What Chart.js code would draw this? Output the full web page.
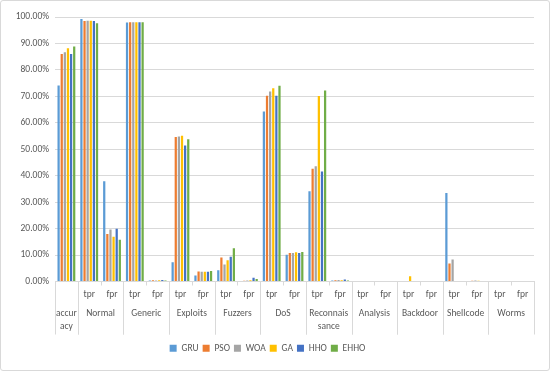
<!DOCTYPE html>
<html>
<head>
<meta charset="utf-8">
<script src="https://cdn.jsdelivr.net/npm/chart.js@4"></script>
<style>
  body { margin: 0; background: #fff; }
  #box { position: absolute; left: 0; top: 0; width: 548px; height: 369px; border: 1px solid #d9d9d9; border-radius: 3px; }
</style>
</head>
<body>
<div id="box"><canvas id="chart" width="548" height="369"></canvas></div>
<script>
// groups along the x axis, each with tpr / fpr (accuracy stands alone)
const groups = ['accuracy', 'Normal', 'Generic', 'Exploits', 'Fuzzers', 'DoS', 'Reconnaissance', 'Analysis', 'Backdoor', 'Shellcode', 'Worms'];
const groupLines = [['accur', 'acy'], ['Normal'], ['Generic'], ['Exploits'], ['Fuzzers'], ['DoS'], ['Reconnais', 'sance'], ['Analysis'], ['Backdoor'], ['Shellcode'], ['Worms']];
const metrics = ['tpr', 'fpr'];
const yTicks = [0, 10, 20, 30, 40, 50, 60, 70, 80, 90, 100];

const seriesNames = ['GRU', 'PSO', 'WOA', 'GA', 'HHO', 'EHHO'];
const seriesColors = ['#5B9BD5', '#ED7D31', '#A5A5A5', '#FFC000', '#4472C4', '#70AD47'];

// acc, Normal tpr/fpr, Generic, Exploits, Fuzzers, DoS, Recon, Analysis, Backdoor, Shellcode, Worms
const GRU  = [74.1, 99.2, 37.9, 97.9, 0.4,  7.3, 2.3,  4.3, 0.2, 64.3, 10.1, 34.1, 0.4, 0, 0, 0,   0, 33.5, 0,   0, 0];
const PSO  = [86.0, 98.5, 18.0, 98.0, 0.5, 54.6, 3.8,  9.1, 0.3, 70.2, 10.8, 42.6, 0.5, 0, 0, 0,   0,  6.8, 0.3, 0, 0];
const WOA  = [86.7, 98.6, 19.7, 98.0, 0.4, 54.8, 3.7,  6.4, 0.4, 71.8, 10.8, 43.6, 0.6, 0, 0, 0,   0,  8.3, 0.4, 0, 0];
const GA   = [88.2, 98.6, 16.9, 98.0, 0.5, 55.1, 3.7,  8.0, 0.5, 73.1, 11.1, 70.1, 0.5, 0, 0, 2.0, 0,  0,   0.3, 0, 0];
const HHO  = [86.0, 98.5, 19.9, 98.0, 0.6, 51.4, 3.7,  9.4, 1.4, 70.2, 10.8, 41.6, 0.8, 0, 0, 0,   0,  0,   0.2, 0, 0];
const EHHO = [88.8, 97.6, 15.8, 98.0, 0.4, 53.8, 4.0, 12.6, 0.9, 74.0, 11.2, 72.2, 0.4, 0, 0, 0,   0,  0,   0,   0, 0];
const seriesData = [GRU, PSO, WOA, GA, HHO, EHHO];

// build the 21 x categories
const labels = ['accuracy'];
groups.slice(1).forEach(g => metrics.forEach(m => labels.push(g + ' ' + m)));

const textColor = '#595959';
const gridColor = '#d9d9d9';
const fontFamily = "Carlito, 'Liberation Sans', Arial, sans-serif";

// draws tpr/fpr ticks, group names and divider lines under the axis
const groupAxis = {
    id: 'groupAxis',
    afterDraw(chart) {
        const ctx = chart.ctx;
        const x = chart.scales.x;
        const bottom = chart.chartArea.bottom;
        const step = x.width / labels.length;
        ctx.save();
        ctx.fillStyle = textColor;
        ctx.font = '9.5px ' + fontFamily;
        ctx.textAlign = 'center';
        ctx.textBaseline = 'middle';
        ctx.strokeStyle = gridColor;
        ctx.lineWidth = 1;

        // short ticks at every category edge
        for (let i = 0; i <= labels.length; i++) {
            const px = Math.round(x.left + i * step) + 0.5;
            ctx.beginPath();
            ctx.moveTo(px, bottom);
            ctx.lineTo(px, bottom + 4);
            ctx.stroke();
        }

        // tpr / fpr row
        labels.forEach((lab, i) => {
            if (i === 0) return;
            ctx.fillText(metrics[(i - 1) % 2], x.getPixelForValue(i), bottom + 13);
        });

        // group names and full-height dividers
        let start = 0;
        groups.forEach((g, gi) => {
            const n = gi === 0 ? 1 : 2;
            const left = x.left + start * step;
            const right = x.left + (start + n) * step;
            const cx = (left + right) / 2;
            groupLines[gi].forEach((ln, li) => {
                ctx.fillText(ln, cx, bottom + 32 + li * 13);
            });
            [left, right].forEach(px => {
                ctx.beginPath();
                ctx.moveTo(Math.round(px) + 0.5, bottom);
                ctx.lineTo(Math.round(px) + 0.5, bottom + 53);
                ctx.stroke();
            });
            start += n;
        });
        ctx.restore();
    }
};

new Chart(document.getElementById('chart'), {
    type: 'bar',
    data: {
        labels: labels,
        datasets: seriesNames.map((name, i) => ({
            label: name,
            data: seriesData[i],
            backgroundColor: seriesColors[i],
            borderWidth: 0,
            categoryPercentage: 0.82,
            barPercentage: 0.72
        }))
    },
    options: {
        responsive: false,
        animation: false,
        layout: { padding: { left: 0, right: 15, top: 16, bottom: 7 } },
        scales: {
            x: {
                grid: { display: false },
                border: { display: true, color: gridColor },
                ticks: { display: false },
                afterFit(scale) { scale.height = 58; }
            },
            y: {
                min: 0,
                max: 100,
                afterBuildTicks(scale) { scale.ticks = yTicks.map(v => ({ value: v })); },
                grid: { color: gridColor, drawTicks: false },
                border: { display: false },
                ticks: {
                    color: textColor,
                    font: { family: fontFamily, size: 9.5 },
                    padding: 6,
                    callback: v => v.toFixed(2) + '%'
                },
                afterFit(scale) { scale.width = 54; }
            }
        },
        plugins: {
            legend: {
                position: 'bottom',
                labels: {
                    color: textColor,
                    font: { family: fontFamily, size: 9.5 },
                    boxWidth: 7,
                    boxHeight: 7,
                    padding: 4
                }
            },
            tooltip: { enabled: false }
        }
    },
    plugins: [groupAxis]
});
</script>
</body>
</html>
